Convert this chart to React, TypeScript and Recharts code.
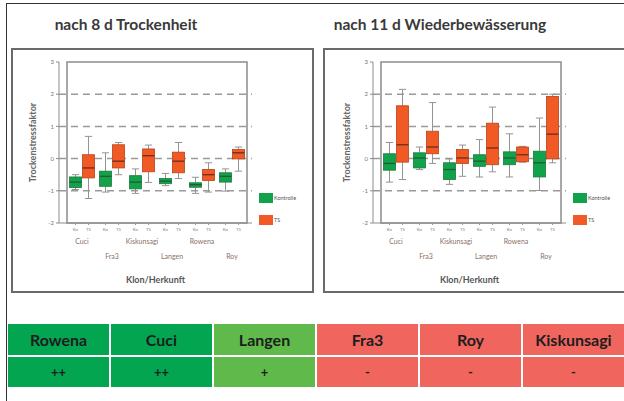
import React from "react";
import { BarChart, Bar, XAxis, YAxis, CartesianGrid, ReferenceArea, Legend } from "recharts";

const clones = ["Cuci", "Fra3", "Kiskunsagi", "Langen", "Rowena", "Roy"];
const subLabels = ["Ko", "TS"];
const yTicks = [-2, -1, 0, 1, 2, 3];
const dashedLevels = [2, 1, 0, -1];

// [min, q1, median, q3, max]
const droughtKontrolle = [
  [-0.96, -0.9, -0.73, -0.57, -0.5],
  [-1.04, -0.86, -0.55, -0.39, 0.18],
  [-1.08, -0.94, -0.73, -0.53, -0.32],
  [-0.84, -0.78, -0.7, -0.62, -0.46],
  [-1.08, -0.89, -0.81, -0.75, -0.58],
  [-1.01, -0.73, -0.55, -0.44, -0.32],
];
const droughtTS = [
  [-1.24, -0.6, -0.29, 0.12, 0.69],
  [-0.5, -0.29, -0.08, 0.43, 0.5],
  [-0.74, -0.41, 0.09, 0.3, 0.42],
  [-0.62, -0.44, -0.08, 0.2, 0.5],
  [-1.04, -0.68, -0.5, -0.34, -0.13],
  [-0.39, -0.01, 0.18, 0.28, 0.36],
];
const rewaterKontrolle = [
  [-0.73, -0.36, -0.15, 0.15, 0.5],
  [-0.34, -0.29, 0.02, 0.18, 0.36],
  [-0.8, -0.65, -0.34, -0.13, -0.01],
  [-0.57, -0.24, -0.08, 0.12, 0.59],
  [-0.57, -0.19, 0.02, 0.21, 0.77],
  [-0.99, -0.57, -0.13, 0.23, 1.26],
];
const rewaterTS = [
  [-0.65, -0.11, 0.43, 1.64, 2.15],
  [-0.15, 0.15, 0.36, 0.85, 1.74],
  [-0.55, -0.15, 0.02, 0.28, 0.42],
  [-0.41, -0.19, 0.33, 1.1, 1.6],
  [-0.11, -0.1, 0.12, 0.36, 0.38],
  [-0.13, -0.01, 0.76, 1.93, 2.0],
];

const rankNames = ["Rowena", "Cuci", "Langen", "Fra3", "Roy", "Kiskunsagi"];
const rankMarks = ["++", "++", "+", "-", "-", "-"];
const rankColors = ["#03a550", "#03a550", "#5fba4b", "#f0665f", "#f0665f", "#f0665f"];

const GREEN = "#12a24c";
const ORANGE = "#f15a24";

function buildRows(kontrolle: number[][], ts: number[][]) {
  return clones.map((clone, i) => ({
    clone,
    k: kontrolle[i],
    ts: ts[i],
    kRange: [kontrolle[i][0], kontrolle[i][4]],
    tsRange: [ts[i][0], ts[i][4]],
  }));
}

const boxShape = (key: string, fill: string, edge: string, mid: string) => (props: any) => {
  const { x, y, width, height, payload } = props;
  const [mn, q1, md, q3, mx] = payload[key];
  const top = Math.min(y, y + height);
  const h = Math.abs(height);
  const py = (v: number) => top + ((mx - v) / (mx - mn)) * h;
  const cx = x + width / 2;
  const cap = width * 0.28;
  return (
    <g>
      <line x1={cx} x2={cx} y1={py(mx)} y2={py(q3)} stroke="#949494" strokeWidth={1} />
      <line x1={cx} x2={cx} y1={py(q1)} y2={py(mn)} stroke="#949494" strokeWidth={1} />
      <line x1={cx - cap} x2={cx + cap} y1={py(mx)} y2={py(mx)} stroke="#949494" strokeWidth={1} />
      <line x1={cx - cap} x2={cx + cap} y1={py(mn)} y2={py(mn)} stroke="#949494" strokeWidth={1} />
      <rect x={x + 0.5} y={py(q3)} width={width - 1} height={Math.max(py(q1) - py(q3), 1)} fill={fill} stroke={edge} strokeWidth={0.8} />
      <line x1={x + 0.5} x2={x + width - 0.5} y1={py(md)} y2={py(md)} stroke={mid} strokeWidth={1.3} />
    </g>
  );
};

const CloneTick = (props: any) => {
  const { x, y, payload, index } = props;
  const row = index % 2;
  return (
    <g>
      <line x1={x - 6.5} x2={x - 6.5} y1={y} y2={y + 2} stroke="#999" />
      <line x1={x + 6.5} x2={x + 6.5} y1={y} y2={y + 2} stroke="#999" />
      <text x={x - 6.5} y={y + 8} fontSize={4.5} textAnchor="middle" fill="#888">{subLabels[0]}</text>
      <text x={x + 6.5} y={y + 8} fontSize={4.5} textAnchor="middle" fill="#888">{subLabels[1]}</text>
      <text x={x} y={y + 20.5 + row * 15} fontSize={7} textAnchor="middle" fill="#8a6f66">{payload.value}</text>
    </g>
  );
};

const LegendContent = (props: any) => {
  const items = props.payload || [];
  return (
    <div>
      {items.map((p: any) => (
        <div key={p.value} style={{ display: "flex", alignItems: "center", height: 10, marginBottom: 12 }}>
          <span style={{ width: 14, height: 10, background: p.color, display: "inline-block" }} />
          <span style={{ fontSize: 5.5, color: "#555", marginLeft: 1 }}>{p.value}</span>
        </div>
      ))}
    </div>
  );
};

function BoxPanel({ rows, left }: { rows: any[]; left: number }) {
  return (
    <div style={{ position: "absolute", left, top: 48 }}>
      <BarChart
        width={303}
        height={245}
        data={rows}
        barGap={0}
        barSize={13}
        margin={{ top: 14, right: 62, bottom: 10, left: 0 }}
      >
        <CartesianGrid
          vertical={false}
          horizontalValues={dashedLevels}
          stroke="#9a9a9a"
          strokeWidth={1.5}
          strokeDasharray="7 5"
        />
        <ReferenceArea y1={-2} y2={3} fill="none" stroke="#8c8c8c" strokeWidth={1.5} ifOverflow="visible" />
        <XAxis
          dataKey="clone"
          interval={0}
          height={60}
          tickSize={0}
          tickMargin={0}
          axisLine={{ stroke: "#8c8c8c" }}
          tick={<CloneTick />}
          padding={{ left: 8, right: 5 }}
          label={{ value: "Klon/Herkunft", position: "insideBottom", offset: 0, fontSize: 9, fontWeight: 700, fill: "#555" }}
        />
        <YAxis
          width={48}
          domain={[-2, 3]}
          ticks={yTicks}
          tickSize={3}
          tickMargin={2}
          tick={{ fontSize: 6, fill: "#777" }}
          axisLine={{ stroke: "#8c8c8c" }}
          tickLine={{ stroke: "#8c8c8c" }}
          label={{ value: "Trockenstressfaktor", angle: -90, position: "center", dx: -2, fontSize: 9, fontWeight: 700, fill: "#666" }}
        />
        <Legend
          layout="vertical"
          align="center"
          verticalAlign="middle"
          content={<LegendContent />}
          wrapperStyle={{ left: 248, top: 145, width: 55 }}
        />
        <Bar dataKey="kRange" name="Kontrolle" fill={GREEN} isAnimationActive={false} shape={boxShape("k", GREEN, "#1b7a3a", "#245a35")} />
        <Bar dataKey="tsRange" name="TS" fill={ORANGE} isAnimationActive={false} shape={boxShape("ts", ORANGE, "#b5431b", "#6e2d18")} />
      </BarChart>
    </div>
  );
}

export default function App() {
  const titleStyle: React.CSSProperties = {
    position: "absolute",
    top: 15,
    fontSize: 15.5,
    fontWeight: 700,
    color: "#3a3a3a",
    textAlign: "center",
    whiteSpace: "nowrap",
  };
  return (
    <div style={{ position: "absolute", left: 0, top: 0, width: 624, height: 401, overflow: "hidden", background: "#fff", fontFamily: "Lato, 'Open Sans', sans-serif" }}>
      <div style={{ position: "absolute", left: 6, top: 3, width: 630, height: 410, borderTop: "1.5px solid #333", borderLeft: "1.5px solid #333" }} />
      <div style={{ ...titleStyle, left: 16, width: 220 }}>nach 8 d Trockenheit</div>
      <div style={{ ...titleStyle, left: 320, width: 240 }}>nach 11 d Wiederbewässerung</div>
      <div style={{ position: "absolute", left: 11, top: 48, width: 303, height: 245, border: "2px solid #6a6a6a", boxSizing: "border-box" }} />
      <div style={{ position: "absolute", left: 323, top: 48, width: 310, height: 245, border: "2px solid #6a6a6a", boxSizing: "border-box" }} />
      <BoxPanel rows={buildRows(droughtKontrolle, droughtTS)} left={11} />
      <BoxPanel rows={buildRows(rewaterKontrolle, rewaterTS)} left={325} />
      <div style={{ position: "absolute", left: 8, top: 324, width: 616, display: "grid", gridTemplateColumns: "repeat(6, 1fr)", gap: 2, background: "#fff" }}>
        {rankNames.map((n, i) => (
          <div key={"n" + i} style={{ background: rankColors[i], height: 31, display: "flex", alignItems: "center", justifyContent: "center", fontWeight: 700, fontSize: 16, color: "#1d1d1d" }}>{n}</div>
        ))}
        {rankMarks.map((m, i) => (
          <div key={"m" + i} style={{ background: rankColors[i], height: 30, display: "flex", alignItems: "center", justifyContent: "center", fontWeight: 700, fontSize: 13, color: "#1d1d1d" }}>{m}</div>
        ))}
      </div>
    </div>
  );
}
